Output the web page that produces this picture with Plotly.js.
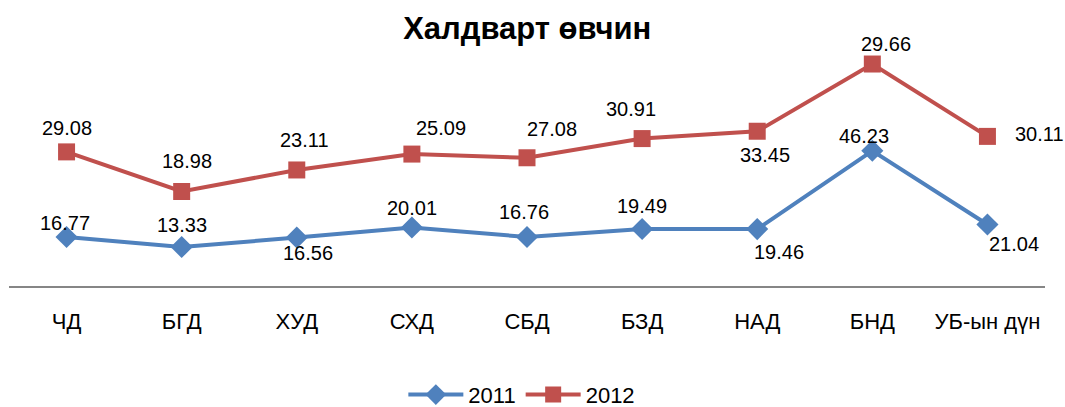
<!DOCTYPE html>
<html>
<head>
<meta charset="utf-8">
<script src="https://cdn.plot.ly/plotly-3.0.1.min.js"></script>
<style>html,body{margin:0;padding:0;background:#fff;}#chart{width:1065px;height:407px;}</style>
</head>
<body>
<div id="chart"></div>
<script>
var categories = ["ЧД", "БГД", "ХУД", "СХД", "СБД", "БЗД", "НАД", "БНД", "УБ-ын дүн"];
var values2011 = [16.77, 13.33, 16.56, 20.01, 16.76, 19.49, 19.46, 46.23, 21.04];
var values2012 = [29.08, 18.98, 23.11, 25.09, 27.08, 30.91, 33.45, 29.66, 30.11];
var seriesNames = ["2011", "2012"];

// label offsets in pixels from each marker (dx right, dy down)
var off2011 = [[-2,-14],[0,-22],[11,15],[0,-19],[-3,-25],[0,-23],[22,23],[-8,-15],[27,20]];
var off2012 = [[0,-24],[5,-30],[8,-30],[29,-26],[25,-29],[-11,-30],[8,24],[14,-20],[52,-2]];

var labelFont = {family: 'Liberation Sans, Arial, sans-serif', size: 20, color: '#000'};

var traces = [
  {
    x: categories, y: values2011, name: seriesNames[0], type: 'scatter',
    mode: 'lines+markers', stackgroup: 'one', fill: 'none',
    line: {color: '#4F81BD', width: 4},
    marker: {symbol: 'diamond', size: 17, color: '#4F81BD'},
    cliponaxis: false
  },
  {
    x: categories, y: values2012, name: seriesNames[1], type: 'scatter',
    mode: 'lines+markers', stackgroup: 'one', fill: 'none',
    line: {color: '#C0504D', width: 4},
    marker: {symbol: 'square', size: 17, color: '#C0504D'},
    cliponaxis: false
  }
];

var annotations = [];
categories.forEach(function(c, i) {
  var y1 = values2011[i];
  var y2 = values2011[i] + values2012[i];
  annotations.push({x: c, y: y1, xref: 'x', yref: 'y', text: values2011[i].toFixed(2), showarrow: false,
    xshift: off2011[i][0], yshift: -off2011[i][1], font: labelFont, xanchor: 'center', yanchor: 'middle'});
  annotations.push({x: c, y: y2, xref: 'x', yref: 'y', text: values2012[i].toFixed(2), showarrow: false,
    xshift: off2012[i][0], yshift: -off2012[i][1], font: labelFont, xanchor: 'center', yanchor: 'middle'});
});

var layout = {
  width: 1065, height: 407,
  paper_bgcolor: '#fff', plot_bgcolor: '#fff',
  margin: {l: 9, r: 20, t: 52, b: 121, autoexpand: false},
  title: {text: '<b>Халдварт өвчин</b>', font: {family: 'Liberation Sans, Arial, sans-serif', size: 31, color: '#000'}, x: 0.495, xanchor: 'center', y: 0.93, yanchor: 'middle', yref: 'container'},
  xaxis: {
    type: 'category', range: [-0.5, 8.5], showgrid: false, zeroline: false,
    showline: true, linecolor: '#868686', linewidth: 2, ticks: '',
    ticklabelstandoff: 15,
    tickfont: {family: 'Liberation Sans, Arial, sans-serif', size: 22, color: '#000'}
  },
  yaxis: {range: [0, 80], visible: false, showgrid: false, zeroline: false},
  annotations: annotations,
  showlegend: true,
  legend: {
    orientation: 'h', x: 0.49, xanchor: 'center', xref: 'container', y: 0.03, yanchor: 'middle', yref: 'container',
    font: {family: 'Liberation Sans, Arial, sans-serif', size: 22, color: '#000'},
    itemwidth: 55, traceorder: 'normal'
  }
};

Plotly.newPlot('chart', traces, layout, {displayModeBar: false, staticPlot: true});
</script>
</body>
</html>
